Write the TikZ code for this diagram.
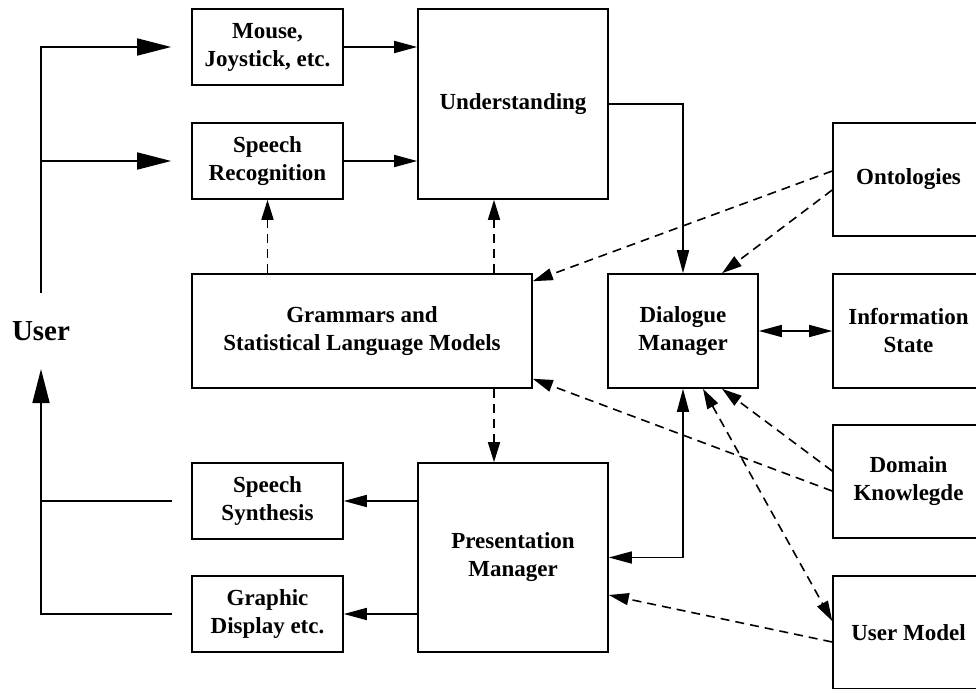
\documentclass[tikz,border=0pt]{standalone}
\usepackage{fontspec}
\setmainfont{Liberation Serif}
\usepackage{tikz}
\usetikzlibrary{arrows.meta}

\begin{document}
\begin{tikzpicture}[x=1pt, y=-1pt, line width=1.6pt,
    box/.style 2 args={draw, align=center, inner sep=0pt,
      font=\bfseries\fontsize{23}{28}\selectfont,
      minimum width=#1, minimum height=#2},
    arr/.style={-{Triangle[length=23pt,width=12pt]}},
    arrr/.style={{Triangle[length=23pt,width=12pt]}-{Triangle[length=23pt,width=12pt]}},
    bigarr/.style={-{Triangle[length=34pt,width=17pt]}},
    darr/.style={dash pattern=on 9pt off 6pt, -{Triangle[length=20pt,width=12pt]}},
    darrr/.style={dash pattern=on 9pt off 6pt,
      {Triangle[length=20pt,width=12pt]}-{Triangle[length=20pt,width=12pt]}}]
    \useasboundingbox (0, 0) rectangle (976, 688);
    \clip (0, 0) rectangle (976, 688);
    {
      \node[box={151pt}{76pt}] (mouse) at (267.5, 47) {Mouse,\\Joystick, etc.};
      \node[box={151pt}{76pt}] (speechrec) at (267.5, 161) {Speech\\Recognition};
      \node[box={190pt}{190pt}] (underst) at (513, 104) {Understanding};
      \node[box={340pt}{114pt}] (grammars) at (362, 331) {Grammars and\\Statistical Language Models};
      \node[box={150pt}{114pt}] (dialog) at (683, 331) {Dialogue\\Manager};
      \node[box={151pt}{76pt}] (speechsyn) at (267.5, 501) {Speech\\Synthesis};
      \node[box={151pt}{76pt}] (graphic) at (267.5, 614) {Graphic\\Display etc.};
      \node[box={190pt}{189pt}] (presman) at (513, 557.5) {Presentation\\Manager};
    }
    {
      \node[box={151pt}{113pt}] (onto) at (908.5, 179.5) {Ontologies};
      \node[box={151pt}{114pt}] (infostate) at (908.5, 331) {Information\\State};
      \node[box={151pt}{113pt}] (domain) at (908.5, 481.5) {Domain\\Knowlegde};
      \node[box={151pt}{113pt}] (usermodel) at (908.5, 632.5) {User Model};
    }
    \node[font=\bfseries\fontsize{29}{34}\selectfont] (user) at (41, 331) {User};
    \coordinate (uup) at (41, 293);
    \coordinate (udown) at (41, 369);
    {
      \draw[bigarr] (uup) |- ([xshift=-20pt]mouse.west);
      \draw[bigarr] (uup |- speechrec) -- ([xshift=-20pt]speechrec.west);
      \draw[bigarr] ([xshift=-19pt]graphic.west) -| (udown);
      \draw ([xshift=-19pt]speechsyn.west) -- (udown |- speechsyn);
    }
    \draw[arr] (mouse) -- (mouse -| underst.west);
    \draw[arr] (speechrec) -- (speechrec -| underst.west);
    \draw[arr] (underst.east) -| (dialog.north);
    \draw[arr] (presman.west |- speechsyn) -- (speechsyn.east);
    \draw[arr] (presman.west |- graphic) -- (graphic.east);
    \draw[arrr] (dialog.east) -- (infostate.west);
    \draw[arrr] (dialog.south) |- (presman.east);
    {
      \draw[darr] (speechrec.south |- grammars.north) -- (speechrec.south);
      \draw[darr] ([xshift=-19pt]underst.south |- grammars.north) -- ([xshift=-19pt]underst.south);
      \draw[darr] ([xshift=-19pt]presman.north |- grammars.south) -- ([xshift=-19pt]presman.north);
      \draw[darr] ([yshift=8.5pt]onto.west) -- ([yshift=-8pt]grammars.north east);
      \draw[darr] ([yshift=-10.5pt]onto.west) -- ([xshift=39pt]dialog.north);
      \draw[darr] ([yshift=10.5pt]domain.west) -- ([xshift=39pt]dialog.south);
      \draw[darr] ([yshift=-9.5pt]domain.west) -- ([yshift=10pt]grammars.south east);
      \draw[darr] ([yshift=-9.5pt]usermodel.west) -- ([yshift=-37.5pt]presman.east);
      \draw[darrr] ([xshift=20pt]dialog.south) -- ([yshift=11.5pt]usermodel.west);
    }
\end{tikzpicture}
\end{document}
